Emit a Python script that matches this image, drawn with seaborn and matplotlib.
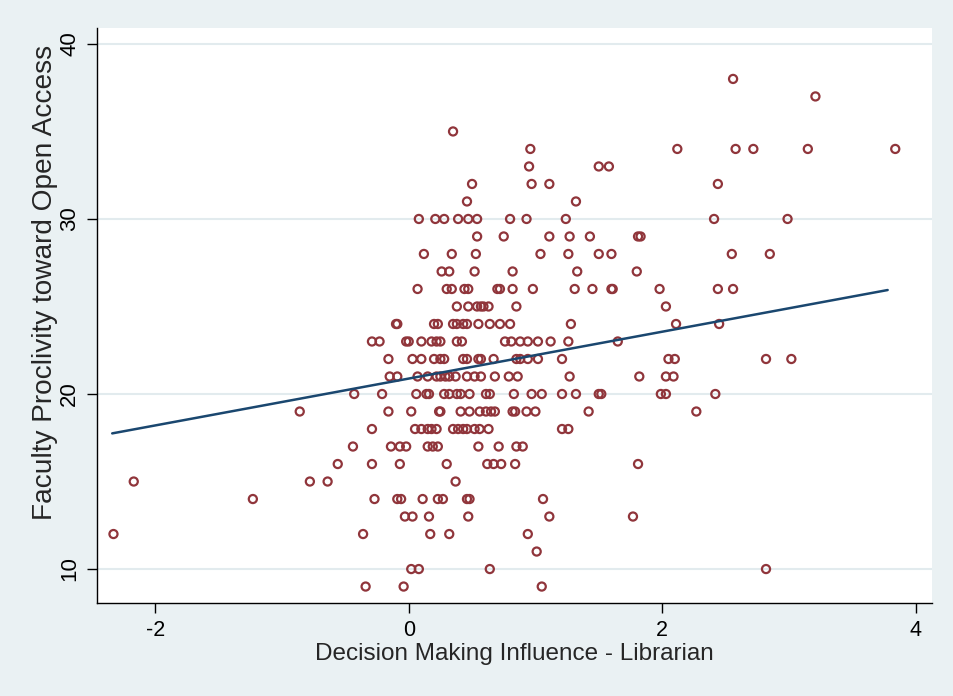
import matplotlib
matplotlib.use("Agg")
import matplotlib.pyplot as plt
import seaborn as sns
import pandas as pd

# x values (Decision Making Influence - Librarian) grouped by y level (Faculty Proclivity)
x_y9 = [-0.34, -0.04, 1.05]
x_y10 = [0.02, 0.08, 0.64, 2.82]
x_y11 = [1.01]
x_y12 = [-2.33, -0.36, 0.17, 0.32, 0.94]
x_y13 = [-0.03, 0.03, 0.16, 0.47, 1.11, 1.77]
x_y14 = [-1.23, -0.27, -0.09, -0.06, 0.11, 0.23, 0.27, 0.46, 0.48, 1.06]
x_y15 = [-2.17, -0.78, -0.64, 0.37]
x_y16 = [-0.56, -0.29, -0.07, 0.30, 0.62, 0.67, 0.73, 0.84, 1.81]
x_y17 = [-0.44, -0.14, -0.07, -0.02, 0.15, 0.19, 0.23, 0.55, 0.71, 0.85, 0.90]
x_y18 = [-0.29, 0.05, 0.10, 0.15, 0.18, 0.22, 0.35, 0.39, 0.43, 0.46, 0.52, 0.56,
         0.63, 1.21, 1.26]
x_y19 = [-0.86, -0.16, 0.02, 0.24, 0.25, 0.41, 0.48, 0.56, 0.61, 0.65, 0.68, 0.82,
         0.84, 0.93, 1.00, 1.42, 2.27]
x_y20 = [-0.43, -0.21, 0.06, 0.14, 0.16, 0.28, 0.32, 0.38, 0.41, 0.48, 0.61, 0.64,
         0.83, 0.97, 1.05, 1.21, 1.32, 1.50, 1.52, 1.99, 2.03, 2.42]
x_y21 = [-0.15, -0.09, 0.07, 0.15, 0.22, 0.25, 0.29, 0.32, 0.37, 0.46, 0.52, 0.57,
         0.68, 0.79, 0.86, 1.27, 1.82, 2.03, 2.09]
x_y22 = [-0.16, 0.03, 0.10, 0.20, 0.25, 0.28, 0.43, 0.46, 0.55, 0.57, 0.67, 0.85,
         0.88, 0.94, 1.02, 1.21, 2.05, 2.10, 2.82, 3.02]
x_y23 = [-0.29, -0.23, -0.02, 0.00, 0.10, 0.18, 0.22, 0.25, 0.38, 0.42, 0.76, 0.81,
         0.88, 0.94, 1.02, 1.12, 1.26, 1.65]
x_y24 = [-0.10, -0.09, 0.20, 0.23, 0.35, 0.38, 0.43, 0.46, 0.55, 0.64, 0.72, 0.80,
         1.28, 2.11, 2.45]
x_y25 = [0.38, 0.47, 0.54, 0.57, 0.59, 0.63, 0.85, 2.03]
x_y26 = [0.07, 0.30, 0.34, 0.44, 0.47, 0.70, 0.72, 0.82, 0.98, 1.31, 1.45, 1.60,
         1.61, 1.98, 2.44, 2.56]
x_y27 = [0.26, 0.32, 0.52, 0.82, 1.33, 1.80]
x_y28 = [0.12, 0.34, 0.53, 1.04, 1.26, 1.50, 1.60, 2.55, 2.85]
x_y29 = [0.54, 0.75, 1.11, 1.27, 1.43, 1.81, 1.83]
x_y30 = [0.08, 0.21, 0.28, 0.39, 0.47, 0.54, 0.80, 0.93, 1.24, 2.41, 2.99]
x_y31 = [0.46, 1.32]
x_y32 = [0.50, 0.97, 1.11, 2.44]
x_y33 = [0.95, 1.50, 1.58]
x_y34 = [0.96, 2.12, 2.58, 2.72, 3.15, 3.84]
x_y35 = [0.35]
x_y37 = [3.21]
x_y38 = [2.56]

y_levels = [9, 10, 11, 12, 13, 14, 15, 16, 17, 18, 19, 20, 21, 22, 23, 24, 25,
            26, 27, 28, 29, 30, 31, 32, 33, 34, 35, 37, 38]
x_groups = [x_y9, x_y10, x_y11, x_y12, x_y13, x_y14, x_y15, x_y16, x_y17, x_y18,
            x_y19, x_y20, x_y21, x_y22, x_y23, x_y24, x_y25, x_y26, x_y27, x_y28,
            x_y29, x_y30, x_y31, x_y32, x_y33, x_y34, x_y35, x_y37, x_y38]

# fitted line as drawn in the chart (end points)
fit_x = [-2.34, 3.78]
fit_y = [17.75, 25.94]

xs, ys = [], []
for lvl, grp in zip(y_levels, x_groups):
    xs.extend(grp)
    ys.extend([lvl] * len(grp))
df = pd.DataFrame({"influence": xs, "proclivity": ys})
fit_df = pd.DataFrame({"influence": fit_x, "proclivity": fit_y})

x_ticks = [-2, 0, 2, 4]
y_ticks = [10, 20, 30, 40]
x_label = "Decision Making Influence - Librarian"
y_label = "Faculty Proclivity toward Open Access"

sns.set_style("ticks")
plt.rcParams["font.family"] = ["Liberation Sans", "DejaVu Sans"]

bg = "#eaf1f3"
grid_c = "#e2ebee"
marker_c = "#90353b"
line_c = "#1a476f"

fig = plt.figure(figsize=(9.54, 6.96), dpi=100, facecolor=bg)
ax = fig.add_axes([97 / 954, 1 - 603 / 696, (932 - 97) / 954, (603 - 28) / 696])
ax.set_facecolor("white")

sns.scatterplot(data=df, x="influence", y="proclivity", ax=ax, marker="o",
                facecolor="none", edgecolor=marker_c, linewidth=1.6, s=34, zorder=3)
sns.lineplot(data=fit_df, x="influence", y="proclivity", ax=ax, color=line_c,
             lw=1.8, zorder=4, estimator=None, sort=False)

ax.set_xlim(-2.46, 4.13)
ax.set_ylim(8.06, 40.91)
ax.set_xticks(x_ticks)
ax.set_yticks(y_ticks)
ax.set_xticklabels([str(t) for t in x_ticks])
ax.yaxis.grid(True, color=grid_c, lw=1.5)
ax.xaxis.grid(False)
ax.set_axisbelow(True)

for s in ["top", "right"]:
    ax.spines[s].set_visible(False)
for s in ["left", "bottom"]:
    ax.spines[s].set_color("black")
    ax.spines[s].set_linewidth(1.0)

ax.tick_params(axis="both", direction="out", length=7, width=1, color="black",
               labelcolor="black")
ax.tick_params(axis="x", labelsize=15.5, pad=5)
ax.tick_params(axis="y", labelsize=16, labelrotation=90, pad=5)
for lab in ax.get_yticklabels():
    lab.set_va("center")

ax.set_xlabel(x_label, fontsize=17.5, labelpad=2)
ax.set_ylabel(y_label, fontsize=20.2)
ax.yaxis.set_label_coords(-0.047, 0.558)

fig.savefig("out.png", dpi=100, facecolor=bg)
